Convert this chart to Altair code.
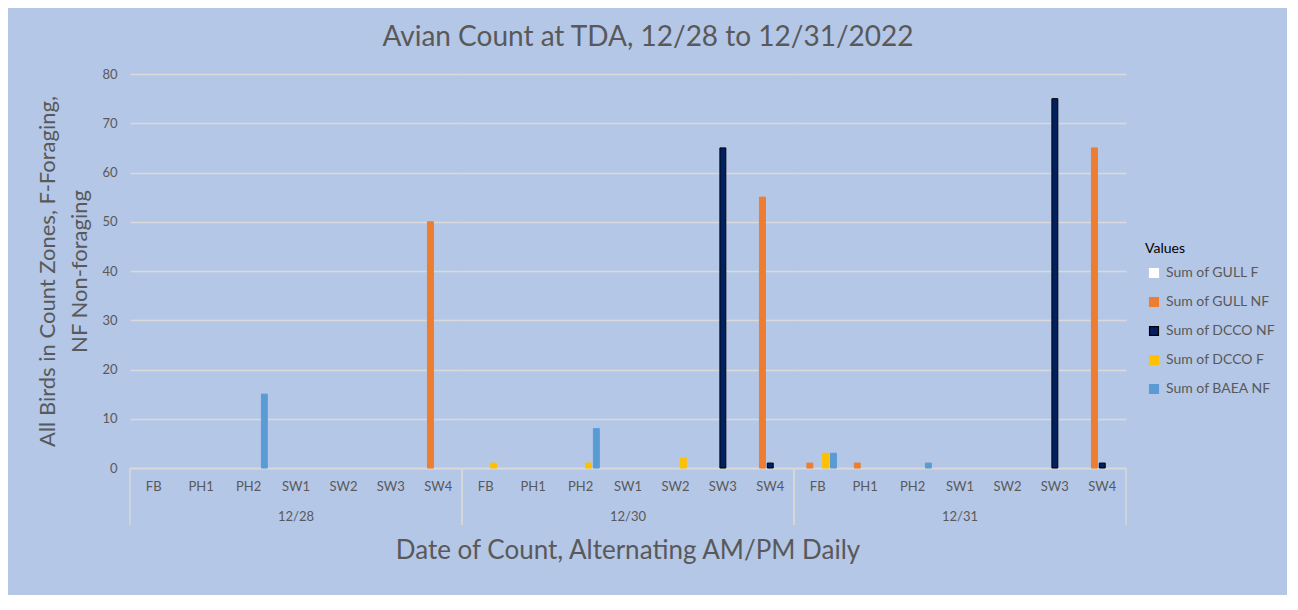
import altair as alt
import pandas as pd

dates = ["12/28", "12/30", "12/31"]
zones = ["FB", "PH1", "PH2", "SW1", "SW2", "SW3", "SW4"]
series_names = ["Sum of GULL F", "Sum of GULL NF", "Sum of DCCO NF", "Sum of DCCO F", "Sum of BAEA NF"]

# values per date (12/28, 12/30, 12/31) x zone (FB..SW4)
gull_f = [None, None, None, None, None, None, None,
          None, None, None, None, None, None, None,
          None, None, None, None, None, None, None]
gull_nf = [None, None, None, None, None, None, 50,
           None, None, None, None, None, None, 55,
           1, 1, None, None, None, None, 65]
dcco_nf = [None, None, None, None, None, None, None,
           None, None, None, None, None, 65, 1,
           None, None, None, None, None, 75, 1]
dcco_f = [None, None, None, None, None, None, None,
          1, None, 1, None, 2, None, None,
          3, None, None, None, None, None, None]
baea_nf = [None, None, 15, None, None, None, None,
           None, None, 8, None, None, None, None,
           3, None, 1, None, None, None, None]

fills = ["#FFFFFF", "#ED7D31", "#002060", "#FFC000", "#5B9BD5"]
strokes = ["#FFFFFF", "#ED7D31", "#000000", "#FFC000", "#5B9BD5"]

rows = []
for name, vals in zip(series_names, [gull_f, gull_nf, dcco_nf, dcco_f, baea_nf]):
    for di, d in enumerate(dates):
        for zi, z in enumerate(zones):
            rows.append({"date": d, "zone": z, "series": name, "value": vals[di * 7 + zi]})
df = pd.DataFrame(rows)

W = 332
H = 394
FONT = "Lato"
GREY = "#595959"
GRID = "#D9D9D9"
BG = "#B4C7E7"

legend = alt.Legend(
    title="Values", orient="none", legendX=1015, legendY=168,
    symbolType="square", symbolSize=80, symbolStrokeWidth=1.2, symbolOffset=2,
    labelFont=FONT, labelFontSize=14, labelColor=GREY, labelOffset=5,
    titleFont=FONT, titleFontSize=14, titleColor="#000000", titleFontWeight="normal",
    titlePadding=10, rowPadding=15,
)

bars = alt.Chart().transform_filter("isValid(datum.value) && datum.value > 0").mark_bar(strokeWidth=1).encode(
    x=alt.X("zone:N", scale=alt.Scale(domain=zones, paddingInner=0.21, paddingOuter=0.105),
            axis=alt.Axis(title=None, labelAngle=0, ticks=False, domainColor=GRID, domainWidth=1.5,
                          labelPadding=12, labelColor=GREY, labelFontSize=13, labelFont=FONT, grid=False)),
    xOffset=alt.XOffset("series:N", scale=alt.Scale(domain=series_names, paddingInner=0.25)),
    y=alt.Y("value:Q", scale=alt.Scale(domain=[0, 80]),
            axis=alt.Axis(values=[0, 10, 20, 30, 40, 50, 60, 70, 80],
                          title=["All Birds in Count Zones, F-Foraging,", "NF Non-foraging"],
                          titleFont=FONT, titleFontSize=22, titleColor=GREY, titleFontWeight="normal",
                          titleLineHeight=32, titlePadding=10,
                          domain=False, ticks=False, tickSize=0, labelPadding=13,
                          labelFont=FONT, labelFontSize=13, labelColor=GREY,
                          gridColor=GRID, gridWidth=1.5)),
    color=alt.Color("series:N", scale=alt.Scale(domain=series_names, range=fills), legend=legend),
    stroke=alt.Stroke("series:N", scale=alt.Scale(domain=series_names, range=strokes), legend=legend),
)

sep_left = alt.Chart().transform_aggregate(n="count()", groupby=["date"]).mark_rule(
    color=GRID, strokeWidth=1.5).encode(x=alt.value(0), y=alt.value(H), y2=alt.value(H + 57))
sep_right = alt.Chart().transform_aggregate(n="count()", groupby=["date"]).mark_rule(
    color=GRID, strokeWidth=1.5).encode(x=alt.value(W), y=alt.value(H), y2=alt.value(H + 57))

layer = alt.layer(bars, sep_left, sep_right, data=df).properties(width=W, height=H)

chart = layer.facet(
    column=alt.Column("date:N", sort=dates,
                      header=alt.Header(title="Date of Count, Alternating AM/PM Daily",
                                        titleOrient="bottom", labelOrient="bottom",
                                        titleFont=FONT, titleFontSize=26, titleColor=GREY,
                                        titleFontWeight="normal", titlePadding=4,
                                        labelFont=FONT, labelFontSize=13, labelColor=GREY,
                                        labelPadding=18)),
    spacing=0,
    bounds="flush",
).properties(
    title=alt.Title("Avian Count at TDA, 12/28 to 12/31/2022", font=FONT, fontSize=28,
                    color=GREY, fontWeight="normal", anchor="middle", offset=16, dx=-8),
    padding={"left": 28, "top": 16, "right": 12, "bottom": 31},
).configure(background=BG).configure_view(stroke=None)

chart.save("out.html", embed_options={"renderer": "svg", "actions": False})
